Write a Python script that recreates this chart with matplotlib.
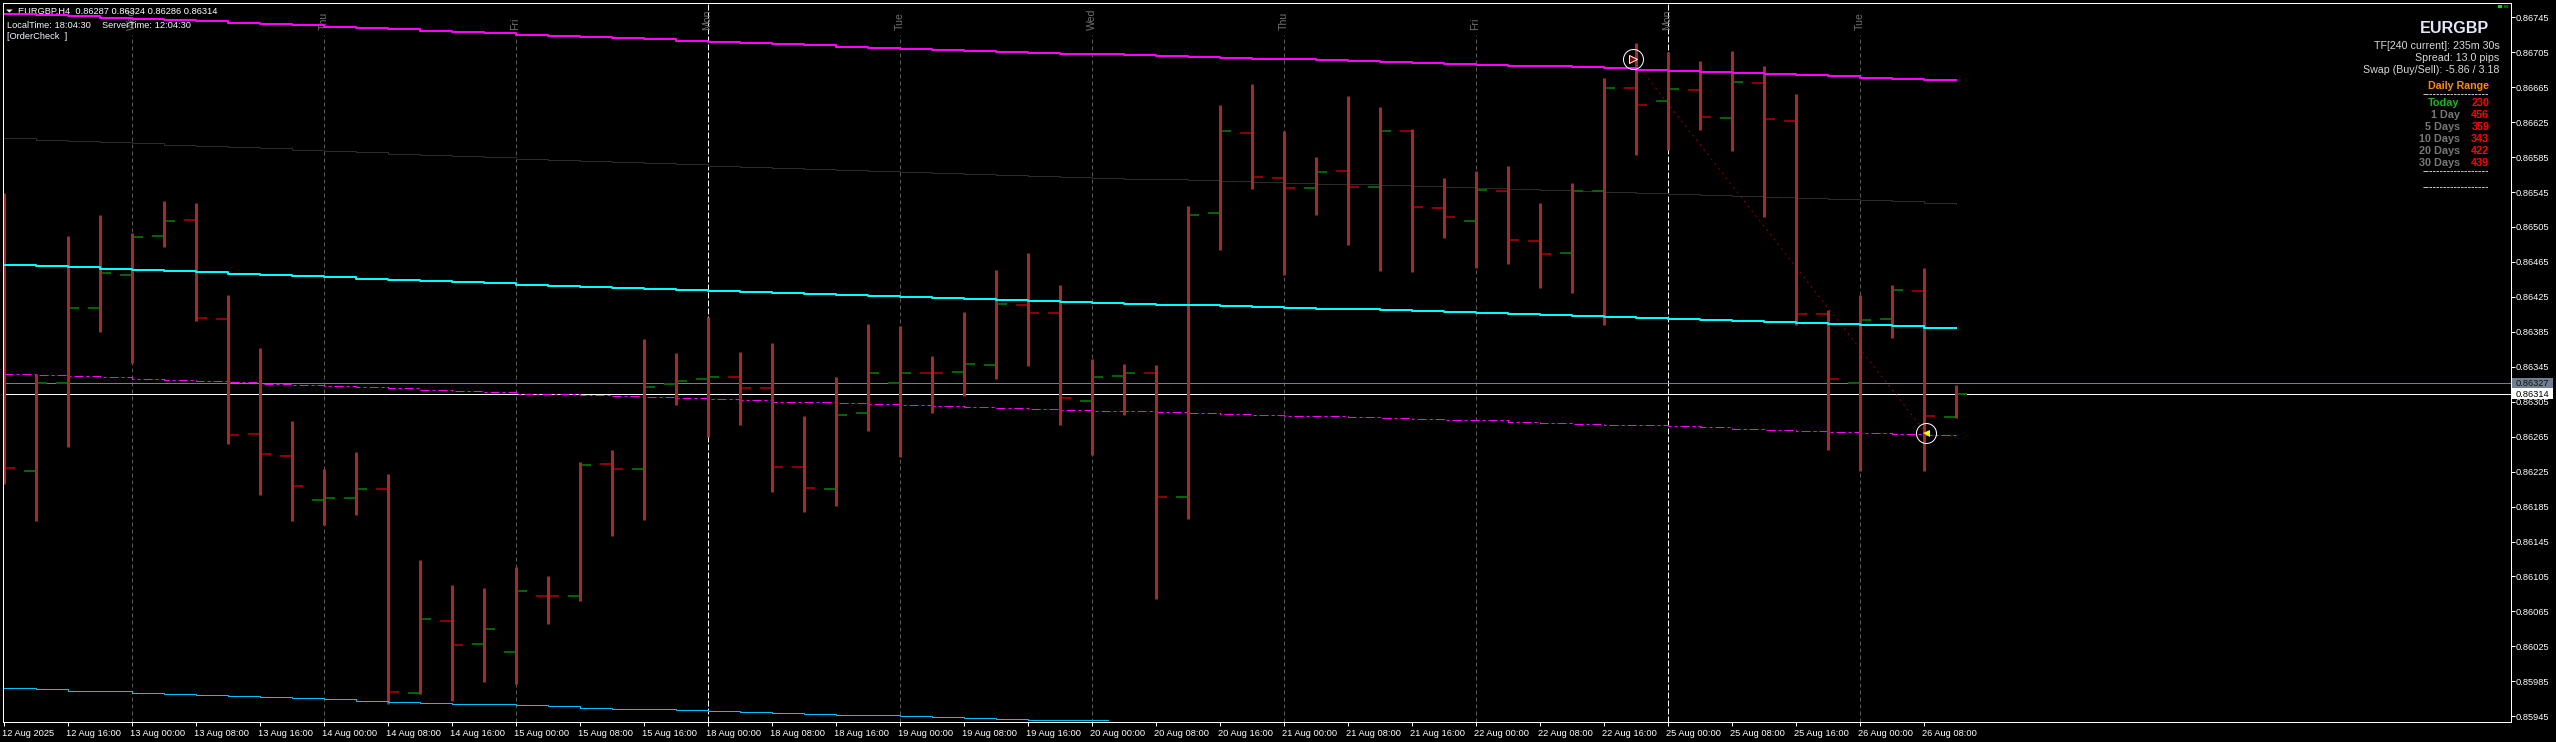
import matplotlib
matplotlib.use("Agg")
import matplotlib.pyplot as plt
from matplotlib.patches import Rectangle
from matplotlib.transforms import Affine2D, blended_transform_factory
import numpy as np

W, H, DPI = 2556, 742, 100
PX = 72.0 / DPI
plt.rcParams['font.family'] = ['Liberation Sans', 'DejaVu Sans']
plt.rcParams['lines.scale_dashes'] = False

# ---------- data ----------
opens = [0.865000,0.862257,0.863265,0.864123,0.864504,0.864951,0.865130,0.863997,0.862685,0.862433,
         0.861930,0.861952,0.862055,0.859720,0.860545,0.860281,0.860190,0.860830,0.860830,0.862341,
         0.862284,0.863257,0.863314,0.863337,0.863211,0.862307,0.862055,0.862925,0.863268,0.863383,
         0.863394,0.863474,0.864161,0.864070,0.863062,0.863349,0.863383,0.861960,0.865214,0.866130,
         0.865610,0.865496,0.865690,0.865508,0.866149,0.865267,0.865119,0.865462,0.864890,0.864752,
         0.865462,0.866641,0.866492,0.866618,0.866297,0.866698,0.866263,0.864054,0.863268,0.863997,
         0.864318,0.862870]
highs = [0.865439,0.863368,0.864947,0.865187,0.864981,0.865348,0.865325,0.864272,0.863665,0.862830,
         0.862280,0.862475,0.862223,0.861239,0.860953,0.860919,0.861159,0.861056,0.862360,0.862498,
         0.863768,0.863608,0.864020,0.863619,0.863722,0.862887,0.863333,0.863940,0.863917,0.863574,
         0.864077,0.864558,0.864752,0.864386,0.863540,0.863482,0.863470,0.865290,0.866446,0.866687,
         0.866149,0.865851,0.866549,0.866423,0.866172,0.865610,0.865690,0.865748,0.865325,0.865554,
         0.866755,0.867156,0.867053,0.866950,0.867064,0.866893,0.866572,0.864100,0.864272,0.864386,
         0.864581,0.863240]
lows = [0.862109,0.861685,0.862532,0.863848,0.863493,0.864821,0.863974,0.862567,0.861983,0.861685,
        0.861639,0.861754,0.859591,0.859705,0.859625,0.859843,0.859820,0.860506,0.860770,0.861514,
        0.861697,0.863013,0.862647,0.862784,0.862017,0.861788,0.861857,0.862715,0.862418,0.862921,
        0.863116,0.863310,0.863459,0.862784,0.862441,0.862898,0.860793,0.861708,0.864787,0.865485,
        0.864501,0.865187,0.864844,0.864546,0.864535,0.864924,0.864581,0.864627,0.864352,0.864295,
        0.863928,0.865874,0.865931,0.866160,0.865920,0.865164,0.863928,0.862498,0.862258,0.863779,
        0.862258,0.862860]
closes = [0.862292,0.863265,0.864123,0.864527,0.864939,0.865123,0.864009,0.862673,0.862456,0.862090,
          0.861952,0.862055,0.859732,0.860567,0.860270,0.860453,0.860888,0.860830,0.862330,0.862284,
          0.863223,0.863291,0.863337,0.863211,0.862307,0.862067,0.862902,0.863383,0.863383,0.863383,
          0.863486,0.864173,0.864070,0.863097,0.863337,0.863383,0.861960,0.865191,0.866153,0.865622,
          0.865496,0.865679,0.865508,0.866149,0.865279,0.865164,0.865473,0.864901,0.864741,0.865462,
          0.866641,0.866446,0.866629,0.866309,0.866710,0.866286,0.864054,0.863314,0.863986,0.864329,
          0.862891,0.863140]

channel_top = [0.867488,0.867476,0.867465,0.867442,0.867431,0.867419,0.867408,0.867385,0.867373,0.867362,
               0.867339,0.867328,0.867316,0.867293,0.867282,0.867270,0.867247,0.867236,0.867225,0.867213,
               0.867202,0.867179,0.867167,0.867156,0.867144,0.867133,0.867110,0.867099,0.867087,0.867076,
               0.867064,0.867053,0.867041,0.867030,0.867030,0.867018,0.867007,0.866996,0.866984,0.866973,
               0.866973,0.866961,0.866950,0.866938,0.866927,0.866915,0.866904,0.866893,0.866893,0.866881,
               0.866870,0.866847,0.866835,0.866824,0.866812,0.866801,0.866790,0.866778,0.866755,0.866744,
               0.866732,0.866732]
channel_mid = [0.864615,0.864604,0.864592,0.864569,0.864558,0.864546,0.864535,0.864512,0.864501,0.864489,
               0.864478,0.864455,0.864443,0.864432,0.864420,0.864409,0.864386,0.864375,0.864363,0.864352,
               0.864340,0.864329,0.864318,0.864306,0.864295,0.864283,0.864272,0.864260,0.864249,0.864237,
               0.864226,0.864214,0.864203,0.864192,0.864180,0.864169,0.864157,0.864157,0.864146,0.864134,
               0.864123,0.864112,0.864112,0.864100,0.864089,0.864077,0.864066,0.864054,0.864043,0.864031,
               0.864020,0.864009,0.863997,0.863986,0.863974,0.863963,0.863951,0.863940,0.863928,0.863917,
               0.863894,0.863894]
trend_grey = [0.866065,0.866042,0.866030,0.866019,0.866007,0.865985,0.865973,0.865962,0.865950,0.865927,
              0.865916,0.865905,0.865882,0.865870,0.865859,0.865847,0.865824,0.865813,0.865802,0.865790,
              0.865779,0.865767,0.865744,0.865733,0.865721,0.865710,0.865699,0.865687,0.865676,0.865664,
              0.865653,0.865641,0.865630,0.865618,0.865607,0.865596,0.865596,0.865584,0.865573,0.865561,
              0.865550,0.865538,0.865538,0.865527,0.865515,0.865504,0.865492,0.865481,0.865470,0.865458,
              0.865447,0.865435,0.865424,0.865412,0.865401,0.865389,0.865378,0.865367,0.865355,0.865344,
              0.865321,0.865309]
trend_magenta = [0.863364,0.863352,0.863341,0.863329,0.863307,0.863295,0.863284,0.863272,0.863249,0.863238,
                 0.863227,0.863215,0.863204,0.863181,0.863169,0.863158,0.863143,0.863135,0.863124,0.863112,
                 0.863101,0.863089,0.863078,0.863066,0.863043,0.863043,0.863032,0.863021,0.863009,0.862998,
                 0.862986,0.862975,0.862963,0.862952,0.862940,0.862940,0.862929,0.862918,0.862906,0.862895,
                 0.862883,0.862883,0.862872,0.862860,0.862849,0.862837,0.862837,0.862814,0.862803,0.862792,
                 0.862780,0.862780,0.862769,0.862757,0.862734,0.862723,0.862712,0.862700,0.862689,0.862677,
                 0.862666,0.862654]
channel_low = [0.859770,0.859759,0.859736,0.859736,0.859713,0.859701,0.859690,0.859679,0.859667,0.859656,
               0.859644,0.859621,0.859610,0.859598,0.859587,0.859587,0.859575,0.859564,0.859541,0.859529,
               0.859529,0.859518,0.859507,0.859495,0.859484,0.859472,0.859461,0.859461,0.859449,0.859438,
               0.859426,0.859415,0.859404,0.859404,0.859404,0.859404]
channel_low_x = list(range(35)) + [34.5]

day_bars = [4, 10, 16, 22, 28, 34, 40, 46, 52, 58]
day_names = ['Wed', 'Thu', 'Fri', 'Mon', 'Tue', 'Wed', 'Thu', 'Fri', 'Mon', 'Tue']
week_start = [22, 52]

xtick_bars = list(range(0, 62, 2))
xtick_labels = ['12 Aug 2025','12 Aug 16:00','13 Aug 00:00','13 Aug 08:00','13 Aug 16:00','14 Aug 00:00',
                '14 Aug 08:00','14 Aug 16:00','15 Aug 00:00','15 Aug 08:00','15 Aug 16:00','18 Aug 00:00',
                '18 Aug 08:00','18 Aug 16:00','19 Aug 00:00','19 Aug 08:00','19 Aug 16:00','20 Aug 00:00',
                '20 Aug 08:00','20 Aug 16:00','21 Aug 00:00','21 Aug 08:00','21 Aug 16:00','22 Aug 00:00',
                '22 Aug 08:00','22 Aug 16:00','25 Aug 00:00','25 Aug 08:00','25 Aug 16:00','26 Aug 00:00',
                '26 Aug 08:00']
ytick_vals = [0.86745,0.86705,0.86665,0.86625,0.86585,0.86545,0.86505,0.86465,0.86425,0.86385,0.86345,
              0.86305,0.86265,0.86225,0.86185,0.86145,0.86105,0.86065,0.86025,0.85985,0.85945]
ask_price, bid_price = 0.86327, 0.86314
order_x = [50.93, 60.08]
order_y = [0.866969, 0.862692]

range_labels = ['Today', '1 Day', '5 Days', '10 Days', '20 Days', '30 Days']
range_values = ['230', '456', '359', '343', '422', '439']

# ---------- figure and axes ----------
fig = plt.figure(figsize=(W / DPI, H / DPI), dpi=DPI, facecolor='black')
LEFT, RIGHT, TOP, BOTTOM = 2.5, 2510.5, 2.5, 721.5
ax = fig.add_axes([LEFT / W, 1 - BOTTOM / H, (RIGHT - LEFT) / W, (BOTTOM - TOP) / H], facecolor='black')
ax.set_xlim((LEFT - 3.5) / 32, (RIGHT - 3.5) / 32)
ax.set_ylim(0.8593904, 0.8676194)
for s in ax.spines.values():
    s.set_color('white')
    s.set_linewidth(PX)
    s.set_zorder(20)

FONT = 6.7
ax.yaxis.tick_right()
ax.set_yticks(ytick_vals)
ax.set_yticklabels([f'{v:.5f}' for v in ytick_vals])
ax.set_xticks(xtick_bars)
ax.set_xticklabels(xtick_labels, ha='left')
ax.tick_params(axis='both', colors='white', length=4 * PX, width=PX, labelsize=FONT, pad=1.5 * PX)
ax.tick_params(axis='x', pad=3 * PX)
offset = Affine2D().translate(-1.5, 0)
for lab in ax.get_xticklabels():
    lab.set_transform(lab.get_transform() + offset)

pix = Affine2D().scale(1, -1).translate(0, H)      # screen pixels, y down
x_data_y_pix = blended_transform_factory(ax.transData, pix)

x = np.arange(len(opens))
o, h, l, c = map(np.array, (opens, highs, lows, closes))

# ---------- background lines (below the bars) ----------
for d in day_bars:
    if d in week_start:
        ax.plot([d, d], [ax.get_ylim()[0], ax.get_ylim()[1]], color='white', lw=PX,
                ls=(0, (6 * PX, 2 * PX)), zorder=1)
    else:
        ax.plot([d, d], [ax.get_ylim()[0], 0.867245], color='#5a5a5a', lw=PX,
                ls=(0, (4 * PX, 3 * PX)), zorder=1)
ax.plot(x, trend_grey, drawstyle='steps-post', color='#2c2c2c', lw=PX, zorder=1.2)
ax.axhline(ask_price, color='#708090', lw=PX, zorder=1.25)
ax.axhline(bid_price, color='white', lw=PX, zorder=1.25)
ax.plot(x, trend_magenta, drawstyle='steps-post', color='#ff00ff', lw=PX,
        ls=(0, (9 * PX, 3 * PX, 3 * PX, 3 * PX)), zorder=1.3)
ax.plot(order_x, order_y, color='#8b0000', lw=PX, ls=(0, (2 * PX, 4 * PX)), zorder=1.4)

# ---------- OHLC bars ----------
up = c > o
tick_len = 11.5 / 32
tick_col = ['#006400' if u else '#8b0000' for u in up]
ax.hlines(o, x - tick_len, x, colors=tick_col, lw=2 * PX, zorder=2, capstyle='butt')
ax.hlines(c, x, x + tick_len, colors=tick_col, lw=2 * PX, zorder=2, capstyle='butt')
ax.vlines(x, l, h, colors='#a52a2a', lw=3 * PX, zorder=2.2, capstyle='butt')

# ---------- foreground lines ----------
ax.plot(x, channel_top, drawstyle='steps-post', color='#ff00ff', lw=2 * PX, zorder=3)
ax.plot(x, channel_mid, drawstyle='steps-post', color='#00ffff', lw=2 * PX, zorder=3)
ax.plot(channel_low_x, channel_low, drawstyle='steps-post', color='#00bfff', lw=PX, zorder=3)

# ---------- order markers ----------
ax.plot(order_x, order_y, ls='none', marker='o', ms=20 * PX, mfc='none', mec='white', mew=PX, zorder=4)
ax.plot(order_x[0], order_y[0], ls='none', marker='>', ms=8 * PX, mfc='#8b0000', mec='white', mew=PX, zorder=4)
ax.plot(order_x[1], order_y[1], ls='none', marker='<', ms=7 * PX, mfc='#ffff00', mec='#ffff00', mew=0, zorder=4)

# ---------- price boxes ----------
for y0, y1, fc, txt, tc in [(377.7, 387.7, '#708090', f'{ask_price:.5f}', '#101010'),
                            (388.3, 398.7, 'white', f'{bid_price:.5f}', 'black')]:
    ax.add_patch(Rectangle((2512, y0), 41, y1 - y0, transform=pix, fc=fc, ec='none', clip_on=False, zorder=5))
    ax.text(2516, (y0 + y1) / 2, txt, transform=pix, color=tc, fontsize=FONT, ha='left', va='center_baseline',
            clip_on=False, zorder=6)

# ---------- text ----------
def label(px_x, px_y, s, color='white', size=FONT, ha='left', weight='normal', z=1.5):
    ax.text(px_x, px_y, s, transform=pix, color=color, fontsize=size, ha=ha, va='center_baseline',
            fontweight=weight, clip_on=False, zorder=z)

for d, name in zip(day_bars, day_names):
    ax.text(d, 30, name, transform=x_data_y_pix, rotation=90, color='#707070',
            fontsize=7.6, ha='center', va='bottom', zorder=1.5)

ax.add_patch(plt.Polygon([[6, 9.5], [12.7, 9.5], [9.3, 12.5]], transform=pix, fc='white', ec='none', zorder=1.5))
label(18.3, 10.7, 'EURGBP,H4  0.86287 0.86324 0.86286 0.86314')
label(6.7, 24, 'LocalTime: 18:04:30', color='#f0f8ff')
label(102, 24, 'ServerTime: 12:04:30', color='#f0f8ff')
label(7, 35.7, '[OrderCheck  ]', color='#f0f8ff')

label(2489.3, 27.3, 'EURGBP', color='#e6e6fa', size=11.6, ha='right', weight='bold')
label(2499.7, 45, 'TF[240 current]: 235m 30s', color='#d8d8d8', size=7.7, ha='right')
label(2499.7, 57.3, 'Spread: 13.0 pips', color='#d8d8d8', size=7.7, ha='right')
label(2499.7, 69.3, 'Swap (Buy/Sell): -5.86 / 3.18', color='#d8d8d8', size=7.7, ha='right')
label(2489.3, 85.3, 'Daily Range', color='#ff8c00', size=7.7, ha='right', weight='bold')
dash_text = '-' * 19
for yy in (93.3, 170.3, 186):
    label(2489.3, yy, dash_text, color='white', size=7.7, ha='right')
row_y = [102.3, 114.3, 126.3, 138.3, 150.3, 162.3]
for i, (name, val, yy) in enumerate(zip(range_labels, range_values, row_y)):
    label(2459.7, yy, name, color='#22b422' if i == 0 else '#777777', size=7.8, ha='right', weight='bold')
    label(2489.3, yy, val, color='#ff0000', size=7.8, ha='right', weight='bold')

ax.add_patch(Rectangle((2498, 5), 4, 3, transform=pix, fc='#00e000', ec='none', zorder=6))
ax.add_patch(Rectangle((2504, 5), 4, 3, transform=pix, fc='#006400', ec='none', zorder=6))

fig.savefig('out.png', dpi=DPI, facecolor='black')
